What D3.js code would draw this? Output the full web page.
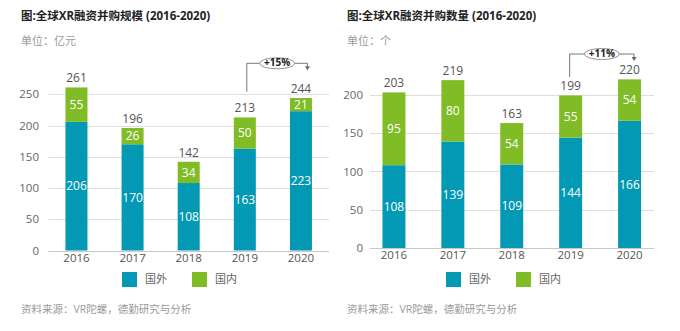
<!DOCTYPE html>
<html>
<head>
<meta charset="utf-8">
<script src="https://cdn.jsdelivr.net/npm/d3@7/dist/d3.min.js"></script>
<style>
  html, body { margin: 0; padding: 0; background: #fff; }
  svg { display: block; font-family: "Open Sans", "Noto Sans CJK SC", sans-serif; }
</style>
</head>
<body>
<svg id="chart" width="680" height="331"></svg>
<script>
// Global XR financing & M&A, 2016-2020
const years = ["2016", "2017", "2018", "2019", "2020"];

// Deal value, 100 million CNY
const valueForeign  = [206, 170, 108, 163, 223];
const valueDomestic = [55, 26, 34, 50, 21];
const valueTotal    = [261, 196, 142, 213, 244];
const valueTicks    = [0, 50, 100, 150, 200, 250];

// Deal count
const countForeign  = [108, 139, 109, 144, 166];
const countDomestic = [95, 80, 54, 55, 54];
const countTotal    = [203, 219, 163, 199, 220];
const countTicks    = [0, 50, 100, 150, 200];

const seriesNames = ["国外", "国内"];
const growthLabels = ["+15%", "+11%"];

const BLUE = "#0399b5";
const GREEN = "#7fbc26";

const svg = d3.select("#chart");

const panels = [
  {
    title: "图:全球XR融资并购规模 (2016-2020)",
    unit: "单位：亿元",
    left: 21,
    foreign: valueForeign, domestic: valueDomestic, total: valueTotal,
    ticks: valueTicks, yMax: 250,
    xRange: [48.4, 329], yRange: [250.5, 94.3],
    pad: 0.608, tickX: 39,
    legendX: 122,
    growth: growthLabels[0], annoTop: 63.3, annoBottom: 91.7, annoDx: [2, 6.5]
  },
  {
    title: "图:全球XR融资并购数量 (2016-2020)",
    unit: "单位：个",
    left: 347,
    foreign: countForeign, domestic: countDomestic, total: countTotal,
    ticks: countTicks, yMax: 200,
    xRange: [364.5, 659], yRange: [248, 94.7],
    pad: 0.61, tickX: 363,
    gridRange: [370, 654],
    legendX: 446,
    growth: growthLabels[1], annoTop: 54, annoBottom: 77, annoDx: [-1, 4.5]
  }
];

panels.forEach(p => {
  const g = svg.append("g");

  const x = d3.scaleBand().domain(years).range(p.xRange)
    .paddingInner(p.pad).paddingOuter(p.pad / 2);
  const y = d3.scaleLinear().domain([0, p.yMax]).range(p.yRange);
  const gr = p.gridRange || p.xRange;

  // title and unit
  g.append("text").attr("x", p.left).attr("y", 20)
    .attr("font-size", 11.5).attr("font-weight", "bold").attr("fill", "#222")
    .text(p.title);
  g.append("text").attr("x", p.left).attr("y", 45)
    .attr("font-size", 11).attr("fill", "#9a9a9a")
    .text(p.unit);

  // gridlines
  g.append("g").selectAll("line").data(p.ticks).join("line")
    .attr("x1", gr[0]).attr("x2", gr[1])
    .attr("y1", d => Math.round(y(d)) + 0.5).attr("y2", d => Math.round(y(d)) + 0.5)
    .attr("stroke", d => d === 0 ? "#c8c8c8" : "#dedede").attr("stroke-width", 1);

  // y axis labels
  const yAxis = d3.axisLeft(y).tickValues(p.ticks).tickSize(0).tickPadding(0);
  const ya = g.append("g").attr("transform", `translate(${p.tickX},0)`).call(yAxis);
  ya.select(".domain").remove();
  ya.selectAll("text").attr("font-size", 11.5).attr("fill", "#666")
    .attr("font-family", "'Open Sans', sans-serif");

  // x axis labels
  const xAxis = d3.axisBottom(x).tickSize(0).tickPadding(0);
  const xa = g.append("g").attr("transform", `translate(0,${y(0) + 3})`).call(xAxis);
  xa.select(".domain").remove();
  xa.selectAll("text").attr("font-size", 11.5).attr("fill", "#555")
    .attr("font-family", "'Open Sans', sans-serif");

  const rows = years.map((yr, i) => ({ yr, f: p.foreign[i], d: p.domestic[i], t: p.total[i] }));

  // foreign segment
  g.append("g").selectAll("rect").data(rows).join("rect")
    .attr("x", d => x(d.yr)).attr("width", x.bandwidth())
    .attr("y", d => y(d.f)).attr("height", d => y(0) - y(d.f))
    .attr("fill", BLUE);
  // domestic segment
  g.append("g").selectAll("rect").data(rows).join("rect")
    .attr("x", d => x(d.yr)).attr("width", x.bandwidth())
    .attr("y", d => y(d.f + d.d)).attr("height", d => y(d.f) - y(d.f + d.d))
    .attr("fill", GREEN);

  const cx = d => x(d.yr) + x.bandwidth() / 2;

  // in-bar labels
  g.append("g").selectAll("text").data(rows).join("text")
    .attr("x", cx).attr("y", d => (y(0) + y(d.f)) / 2 + 1)
    .attr("text-anchor", "middle").attr("dominant-baseline", "middle")
    .attr("font-size", 12).attr("fill", "#fff")
    .text(d => d.f);
  g.append("g").selectAll("text").data(rows).join("text")
    .attr("x", cx).attr("y", d => (y(d.f) + y(d.f + d.d)) / 2 + 1)
    .attr("text-anchor", "middle").attr("dominant-baseline", "middle")
    .attr("font-size", 12).attr("fill", "#fff")
    .text(d => d.d);

  // totals
  g.append("g").selectAll("text").data(rows).join("text")
    .attr("x", cx).attr("y", d => y(d.t) - 5)
    .attr("text-anchor", "middle")
    .attr("font-size", 12).attr("fill", "#555")
    .text(d => d.t);

  // growth annotation 2019 -> 2020
  const x1 = cx(rows[3]) + p.annoDx[0];
  const x2 = cx(rows[4]) + p.annoDx[1];
  const ya0 = p.annoTop;
  g.append("path")
    .attr("d", `M${x1},${p.annoBottom}V${ya0}H${x2}V${ya0 + 3}`)
    .attr("fill", "none").attr("stroke", "#777").attr("stroke-width", 1);
  g.append("path")
    .attr("d", `M${x2 - 2.5},${ya0 + 3}L${x2 + 2.5},${ya0 + 3}L${x2},${ya0 + 7}Z`)
    .attr("fill", "#666");
  const ex = (x1 + x2) / 2;
  g.append("ellipse").attr("cx", ex).attr("cy", ya0).attr("rx", 17.5).attr("ry", 5.5)
    .attr("fill", "#fff").attr("stroke", "#888").attr("stroke-width", 0.9);
  g.append("text").attr("x", ex).attr("y", ya0 + 0.5)
    .attr("text-anchor", "middle").attr("dominant-baseline", "middle")
    .attr("font-size", 10).attr("font-weight", "bold").attr("fill", "#222")
    .text(p.growth);

  // legend
  const lg = g.append("g").attr("transform", `translate(${p.legendX},272)`);
  [BLUE, GREEN].forEach((c, i) => {
    lg.append("rect").attr("x", i * 70).attr("y", 0).attr("width", 15).attr("height", 15).attr("fill", c);
    lg.append("text").attr("x", i * 70 + 23).attr("y", 8).attr("dominant-baseline", "middle")
      .attr("font-size", 11).attr("fill", "#666").text(seriesNames[i]);
  });

  // source
  g.append("text").attr("x", p.left).attr("y", 313)
    .attr("font-size", 10.5).attr("fill", "#999")
    .text("资料来源：VR陀螺，德勤研究与分析");
});
</script>
</body>
</html>
